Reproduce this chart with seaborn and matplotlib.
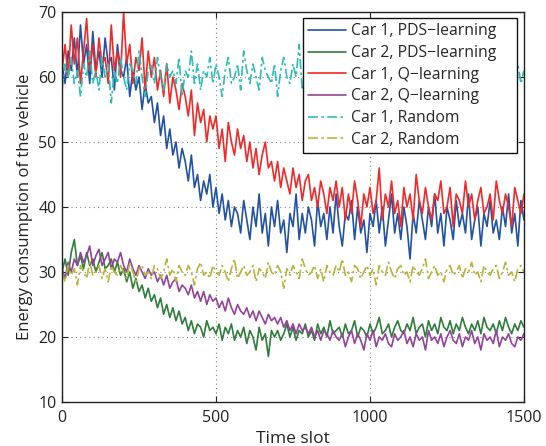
import numpy as np
import pandas as pd
import matplotlib
matplotlib.use("Agg")
import matplotlib.pyplot as plt
import seaborn as sns

# ---- data (one value every 10 time slots) ----
time_slot = np.arange(0, 1501, 10)

car1_pds = [62, 59, 64, 61, 66, 60, 68, 62, 65, 59,
            67, 61, 64, 60, 66, 62, 63, 58, 65, 61,
            60, 63, 57, 61, 58, 60, 55, 59, 56, 57,
            53, 56, 51, 54, 49, 52, 48, 50, 46, 49,
            47, 44, 48, 43, 45, 41, 44, 42, 45, 40,
            43, 39, 42, 38, 41, 37, 40, 39, 36, 41,
            38, 35, 40, 37, 42, 36, 39, 34, 40, 37,
            41, 36, 38, 33, 39, 37, 42, 35, 39, 36,
            40, 38, 34, 41, 37, 39, 35, 40, 36, 42,
            37, 34, 39, 38, 41, 35, 40, 36, 38, 33,
            39, 37, 41, 36, 40, 34, 38, 42, 36, 39,
            35, 40, 37, 32, 39, 36, 41, 38, 35, 40,
            37, 42, 36, 39, 34, 40, 38, 35, 41, 37,
            39, 36, 42, 35, 38, 40, 34, 39, 37, 41,
            36, 38, 35, 40, 37, 42, 36, 39, 34, 41, 38]

car2_pds = [30, 32, 29.5, 33, 35, 31, 32.5, 30.5, 33, 31,
            32, 30, 31.5, 33, 30.5, 31, 32, 30, 31.5, 29.5,
            30.5, 28.5, 30, 27.5, 29, 27, 28, 26, 27.5, 25.5,
            26.5, 24.5, 26, 23.5, 25, 23, 24.5, 22.5, 24, 22,
            23, 21, 22.5, 20.5, 22, 21.5, 20, 22.5, 21, 21.5,
            20.5, 22, 19.5, 21.5, 20.5, 22, 19.5, 21, 20, 21.5,
            19, 21, 20, 18, 21.5, 19.5, 20.5, 17, 21, 20,
            21, 19.5, 20.5, 22, 20, 21.5, 19.5, 21, 20.5, 22,
            20, 21, 19.5, 22, 20.5, 21.5, 20, 22.5, 20.5, 21,
            21.5, 20, 22, 20.5, 21, 22.5, 20, 21.5, 21, 20,
            22, 20.5, 21.5, 23, 20.5, 21, 22, 20, 21.5, 22.5,
            21, 20.5, 22, 21, 23, 20.5, 21.5, 22, 20, 22.5,
            21, 22, 20.5, 23, 21.5, 21, 22.5, 20.5, 22, 21,
            23, 21.5, 20.5, 22, 21, 22.5, 20.5, 23, 21.5, 21,
            22, 20.5, 22.5, 21, 23, 21.5, 20.5, 22, 21, 22.5,
            21.5]

car1_q = [61, 65, 60, 68, 62, 66, 59, 64, 69, 61,
          65, 60, 66, 62, 63, 59, 68, 61, 64, 60,
          70, 62, 65, 59, 63, 61, 66, 58, 64, 60,
          63, 58, 61, 57, 62, 56, 60, 58, 55, 59,
          57, 54, 58, 51, 56, 53, 55, 50, 54, 52,
          54, 49, 52, 47, 53, 50, 48, 52, 49, 51,
          47, 50, 46, 49, 45, 48, 50, 46, 47, 44,
          47, 43, 46, 44, 42, 46, 43, 45, 41, 44,
          45, 41, 43, 40, 44, 42, 39, 43, 41, 44,
          40, 43, 38, 42, 39, 44, 41, 37, 42, 40,
          43, 39, 41, 46, 38, 42, 40, 44, 39, 41,
          37, 43, 40, 42, 38, 45, 41, 39, 43, 40,
          38, 42, 41, 44, 39, 40, 43, 37, 42, 41,
          39, 44, 40, 42, 38, 41, 43, 39, 40, 42,
          38, 44, 41, 39, 42, 40, 37, 43, 41, 39, 42]

car2_q = [30.5, 29, 31.5, 30, 32, 31, 33, 31.5, 32.5, 34,
          31, 32.5, 33.5, 31, 32, 33, 30.5, 32, 31.5, 33,
          31, 30, 32, 30.5, 29.5, 31, 30, 29, 30.5, 29.5,
          30, 28.5, 29.5, 28, 29.5, 27.5, 28.5, 29, 27, 28,
          27.5, 26.5, 28, 26, 27, 25.5, 27, 25, 26.5, 25.5,
          26, 24.5, 25.5, 24, 26, 24.5, 23.5, 25, 24, 23.5,
          24.5, 23, 24, 22.5, 24, 23, 22, 23.5, 22.5, 23,
          22, 23, 21.5, 22.5, 21, 22, 20.5, 22, 21, 21.5,
          20.5, 21.5, 20, 21, 19.5, 21, 20.5, 19.5, 21, 20,
          19.5, 20.5, 18.5, 20, 21, 19, 20.5, 19.5, 18, 20.5,
          19.5, 21, 18.5, 20, 19.5, 20.5, 19, 18.5, 20.5, 19.5,
          20, 21, 19, 20, 18.5, 20.5, 19.5, 20, 18, 21,
          19.5, 20, 19, 20.5, 18.5, 20, 21, 19.5, 19, 20.5,
          18.5, 20, 19.5, 21, 19, 20, 18, 20.5, 19.5, 20,
          19, 21, 18.5, 20, 19.5, 20.5, 19, 18.5, 20, 19.5, 20.5]

car1_random = [58, 62, 60, 63, 59, 61, 57, 62, 60, 64,
               59, 61, 58, 63, 60, 62, 56, 61, 59, 63,
               60, 58, 62, 61, 59, 64, 60, 57, 61, 62,
               59, 63, 60, 58, 62, 60, 61, 59, 63, 57,
               61, 60, 64, 59, 62, 58, 61, 60, 63, 59,
               62, 60, 57, 61, 63, 59, 60, 62, 58, 64,
               61, 59, 62, 60, 58, 63, 61, 60, 59, 62,
               57, 61, 63, 60, 59, 62, 60, 65, 58, 61,
               60, 62, 59, 61, 63, 58, 60, 62, 59, 61,
               64, 60, 58, 62, 61, 59, 63, 60, 57, 61,
               62, 60, 59, 63, 61, 58, 62, 60, 61, 59,
               63, 57, 61, 60, 62, 59, 64, 61, 58, 60,
               62, 61, 59, 63, 60, 58, 61, 62, 59, 60,
               63, 61, 58, 62, 60, 59, 61, 64, 60, 58,
               62, 60, 61, 59, 63, 60, 58, 61, 62, 59,
               61]

car2_random = [30, 28.5, 31, 29.5, 30.5, 28, 31, 30, 29, 31.5,
               29.5, 30, 31, 29, 30.5, 28.5, 31, 30, 29.5, 31,
               30, 29, 31.5, 30, 28.5, 30.5, 31, 29.5, 30, 29,
               31, 30.5, 29, 30, 32, 29.5, 30.5, 28.5, 31, 30,
               29.5, 31, 30, 28, 30.5, 31.5, 29.5, 30, 29, 31,
               30, 29.5, 31, 30, 28.5, 30.5, 32, 29, 30, 31,
               29.5, 30, 31, 28.5, 30.5, 30, 29, 31.5, 30, 29.5,
               31, 30, 27.5, 30.5, 29.5, 31, 30, 29, 32, 30.5,
               29.5, 30, 31, 29, 30.5, 28.5, 31, 30, 29.5, 31,
               30, 32, 29.5, 30, 28.5, 31, 30.5, 29, 30, 31,
               29.5, 30.5, 28, 31, 30, 29.5, 31.5, 30, 29, 30.5,
               31, 29.5, 30, 28.5, 31, 30, 29.5, 30.5, 32, 29,
               30, 31, 29.5, 30, 28.5, 30.5, 31, 29.5, 30, 31,
               29, 30.5, 30, 31.5, 29.5, 30, 28.5, 31, 30, 29.5,
               30.5, 31, 29, 30, 31.5, 29.5, 30, 28.5, 30.5, 31,
               30]

series_labels = ["Car 1, PDS\u2212learning", "Car 2, PDS\u2212learning",
                 "Car 1, Q\u2212learning", "Car 2, Q\u2212learning",
                 "Car 1, Random", "Car 2, Random"]
x_ticks = [0, 500, 1000, 1500]
y_ticks = [10, 20, 30, 40, 50, 60, 70]

# ---- styling ----
sns.set_style("ticks")
plt.rcParams['font.family'] = ['Open Sans', 'DejaVu Sans']
plt.rcParams['xtick.direction'] = 'in'
plt.rcParams['ytick.direction'] = 'in'

colors = ["#2352a3", "#2e7d3a", "#ee2a2a", "#93449a", "#2dbdb8", "#b8b33a"]
styles = ["-", "-", "-", "-", (0, (6, 2, 1.5, 2)), (0, (6, 2, 1.5, 2))]
all_vals = [car1_pds, car2_pds, car1_q, car2_q, car1_random, car2_random]

fig = plt.figure(figsize=(5.46, 4.46), dpi=100)
ax = fig.add_axes([62/546, 1-402/446, (524-62)/546, (402-12)/446])

for vals, lab, c, ls in zip(all_vals, series_labels, colors, styles):
    df = pd.DataFrame({"slot": time_slot, "val": vals})
    sns.lineplot(data=df, x="slot", y="val", ax=ax, color=c, linestyle=ls,
                 linewidth=1.2, label=lab, legend=False)

ax.set_xlim(0, 1500)
ax.set_ylim(10, 70)
ax.set_xticks(x_ticks)
ax.set_yticks(y_ticks)
ax.tick_params(labelsize=11.5, length=4, width=0.8, top=True, right=True,
               colors="#222222", labelcolor="#222222")
ax.tick_params(axis="x", pad=5.5)
ax.tick_params(axis="y", pad=4)
ax.grid(True, linestyle=(0, (1, 3)), color="#888888", linewidth=0.8)
for sp in ax.spines.values():
    sp.set_visible(True)
    sp.set_color("#222222")
    sp.set_linewidth(1.0)
ax.set_xlabel("Time slot", fontsize=12.5, color="#222222", labelpad=4)
ax.set_ylabel("Energy consumption of the vehicle", fontsize=12, color="#222222", labelpad=4)

x0 = (303 - 62) / 462
y0 = (402 - 147) / 390
w = (517 - 303) / 462
h = (147 - 18) / 390
leg = ax.legend(loc="upper left", mode="expand", fontsize=11.3, frameon=True,
                fancybox=False, edgecolor="#111111", framealpha=1,
                handlelength=2.4, handletextpad=0.3, labelspacing=0.36,
                borderpad=0.35, borderaxespad=0, bbox_to_anchor=(x0, y0, w, h))
leg.get_frame().set_linewidth(1.0)

fig.savefig("out.png", dpi=100)
